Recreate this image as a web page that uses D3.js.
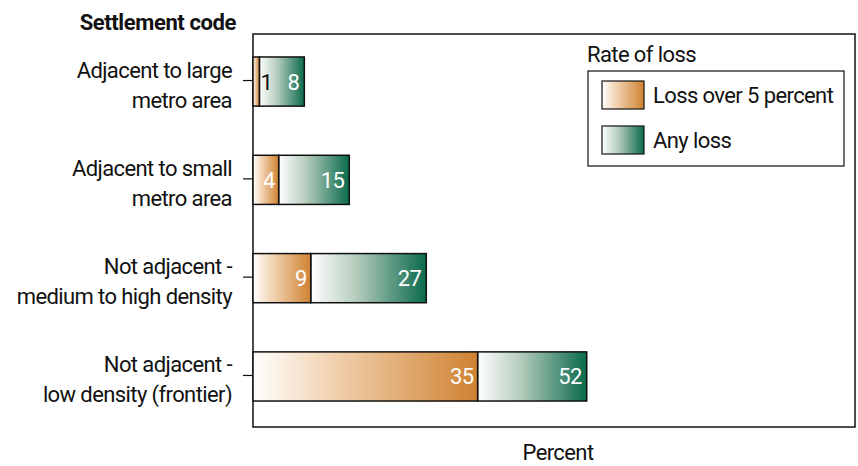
<!DOCTYPE html>
<html>
<head>
<meta charset="utf-8">
<script src="https://cdn.jsdelivr.net/npm/d3@7"></script>
<style>
  body { margin: 0; background: #fff; }
  text { font-family: "Liberation Sans Narrow", "Arial Narrow", "Roboto", sans-serif; letter-spacing: -0.6px; }
</style>
</head>
<body>
<div id="canvas"></div>
<script>
// chart data
let categories = [
  ["Adjacent to large", "metro area"],
  ["Adjacent to small", "metro area"],
  ["Not adjacent -", "medium to high density"],
  ["Not adjacent -", "low density (frontier)"]
]
let lossOver5 = [1, 4, 9, 35]
let anyLoss = [8, 15, 27, 52]
let seriesNames = ["Loss over 5 percent", "Any loss"]

window.onload = function () { setup() }

function setup() {
  let width = 858, height = 466
  let fs = 22
  let svg = d3.select("#canvas")
    .append("svg")
    .attr("width", width)
    .attr("height", height)

  let frame = { left: 253, top: 34, right: 855, bottom: 427 }

  let x = d3.scaleLinear().domain([0, 93.8]).range([frame.left, frame.right])
  let y = d3.scaleBand().domain(d3.range(categories.length))
    .range([32, 426]).paddingInner(0.5).paddingOuter(0.254)

  // gradients
  let defs = svg.append("defs")
  function makeGrad(id, stops) {
    let g = defs.append("linearGradient").attr("id", id)
      .attr("x1", "0%").attr("x2", "100%").attr("y1", "0%").attr("y2", "0%")
    stops.forEach(s => g.append("stop").attr("offset", s[0]).attr("stop-color", s[1]))
  }
  makeGrad("gOrange", [["0%", "#ffffff"], ["35%", "#f1d2b0"], ["100%", "#cf8232"]])
  makeGrad("gGreen", [["0%", "#ffffff"], ["40%", "#b3cbbb"], ["100%", "#096a4c"]])

  // frame
  svg.append("rect")
    .attr("x", frame.left).attr("y", frame.top)
    .attr("width", frame.right - frame.left).attr("height", frame.bottom - frame.top)
    .attr("fill", "none").attr("stroke", "#111").attr("stroke-width", 1.5)

  let rows = categories.map((c, i) => ({ i: i, label: c, low: lossOver5[i], any: anyLoss[i] }))

  // any loss segments
  svg.selectAll("rect.any")
    .data(rows)
    .join("rect")
    .attr("class", "any")
    .attr("x", d => x(d.low))
    .attr("y", d => y(d.i))
    .attr("width", d => x(d.any) - x(d.low))
    .attr("height", y.bandwidth())
    .attr("fill", "url(#gGreen)")
    .attr("stroke", "#111").attr("stroke-width", 1.5)

  // loss over 5 percent segments
  svg.selectAll("rect.low")
    .data(rows)
    .join("rect")
    .attr("class", "low")
    .attr("x", x(0))
    .attr("y", d => y(d.i))
    .attr("width", d => x(d.low) - x(0))
    .attr("height", y.bandwidth())
    .attr("fill", "url(#gOrange)")
    .attr("stroke", "#111").attr("stroke-width", 1.5)

  // value labels
  svg.selectAll("text.lowval")
    .data(rows)
    .join("text")
    .attr("class", "lowval")
    .attr("x", d => d.low < 3 ? x(d.low) + 1 : x(d.low) - 4)
    .attr("y", d => y(d.i) + y.bandwidth() / 2 + 8)
    .attr("text-anchor", d => d.low < 3 ? "start" : "end")
    .attr("fill", d => d.low < 3 ? "#111" : "#fff")
    .attr("font-size", fs)
    .text(d => d.low)

  svg.selectAll("text.anyval")
    .data(rows)
    .join("text")
    .attr("class", "anyval")
    .attr("x", d => x(d.any) - 5)
    .attr("y", d => y(d.i) + y.bandwidth() / 2 + 8)
    .attr("text-anchor", "end")
    .attr("fill", "#fff")
    .attr("font-size", fs)
    .text(d => d.any)

  // y ticks and labels
  let ticks = svg.selectAll("g.ytick")
    .data(rows)
    .join("g")
    .attr("class", "ytick")
    .attr("transform", d => "translate(0," + (y(d.i) + y.bandwidth() / 2 - 1) + ")")

  ticks.append("line")
    .attr("x1", frame.left - 10).attr("x2", frame.left)
    .attr("stroke", "#111").attr("stroke-width", 1.2)

  ticks.append("text")
    .attr("text-anchor", "end")
    .attr("font-size", fs)
    .attr("fill", "#111")
    .selectAll("tspan")
    .data(d => d.label)
    .join("tspan")
    .attr("x", 232)
    .attr("y", (d, j) => j === 0 ? -3 : 27)
    .text(d => d)

  // title
  svg.append("text")
    .attr("x", 236).attr("y", 30)
    .attr("text-anchor", "end")
    .attr("font-size", fs).attr("font-weight", "bold")
    .attr("fill", "#111")
    .style("letter-spacing", "-0.4px")
    .text("Settlement code")

  // x axis title
  svg.append("text")
    .attr("x", (frame.left + frame.right) / 2 + 4).attr("y", 460)
    .attr("text-anchor", "middle")
    .attr("font-size", fs)
    .attr("fill", "#111")
    .text("Percent")

  // legend
  let legend = svg.append("g")
  legend.append("text")
    .attr("x", 587).attr("y", 62)
    .attr("font-size", fs).attr("fill", "#111")
    .text("Rate of loss")
  legend.append("rect")
    .attr("x", 588).attr("y", 71).attr("width", 256).attr("height", 95)
    .attr("fill", "#fff").attr("stroke", "#111").attr("stroke-width", 1.2)

  let items = legend.selectAll("g.item")
    .data(seriesNames)
    .join("g")
    .attr("class", "item")
    .attr("transform", (d, i) => "translate(602," + (81 + i * 45) + ")")
  items.append("rect")
    .attr("width", 42).attr("height", 28)
    .attr("fill", (d, i) => i === 0 ? "url(#gOrange)" : "url(#gGreen)")
    .attr("stroke", "#111").attr("stroke-width", 1.2)
  items.append("text")
    .attr("x", 51).attr("y", 22)
    .attr("font-size", fs).attr("fill", "#111")
    .text(d => d)
}
</script>
</body>
</html>
